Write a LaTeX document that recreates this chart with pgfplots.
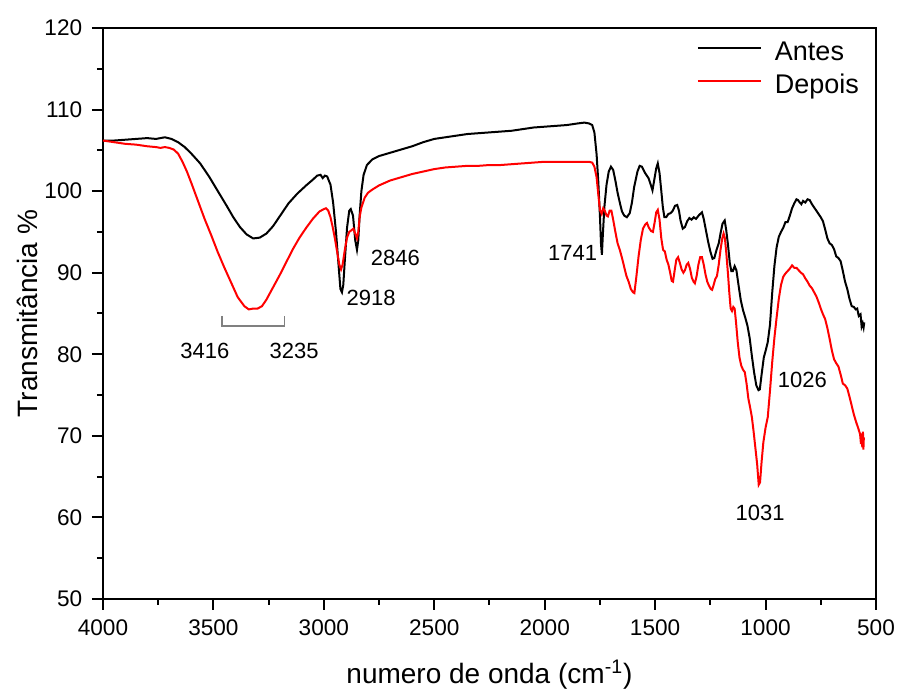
\documentclass[border=0pt]{standalone}
\usepackage{pgfplots}
\pgfplotsset{compat=1.18}
\usepackage{fontspec}
\setmainfont{Liberation Sans}

\pgfplotstableread{
x y
4000 106.2
3950 106.2
3900 106.3
3850 106.4
3800 106.5
3760 106.4
3720 106.6
3690 106.4
3660 106.0
3630 105.4
3600 104.6
3560 103.4
3520 101.8
3480 100.0
3440 98.2
3410 96.8
3380 95.6
3350 94.7
3320 94.2
3290 94.3
3260 94.8
3230 95.7
3200 96.9
3160 98.5
3120 99.7
3080 100.7
3050 101.4
3030 101.9
3015 102.0
3005 101.6
2995 101.9
2985 101.8
2970 100.8
2958 98.6
2945 95.0
2935 91.5
2925 88.0
2918 87.6
2912 88.5
2905 91.5
2895 95.5
2885 97.6
2878 97.8
2868 97.0
2858 94.0
2850 92.8
2844 94.0
2838 97.0
2830 100.0
2820 102.0
2805 103.2
2780 103.9
2750 104.3
2700 104.7
2650 105.1
2600 105.5
2550 106.0
2500 106.4
2450 106.6
2400 106.8
2350 107.0
2300 107.1
2250 107.2
2200 107.3
2150 107.4
2100 107.6
2050 107.8
2000 107.9
1950 108.0
1900 108.1
1850 108.3
1820 108.4
1800 108.3
1785 108.1
1775 107.2
1765 104.5
1757 101.0
1750 97.0
1745 93.5
1741 92.2
1737 94.5
1730 98.0
1720 100.8
1710 102.4
1700 103.0
1690 102.6
1680 101.3
1670 99.8
1660 98.6
1650 97.5
1640 97.0
1628 96.8
1615 97.3
1605 98.6
1595 100.5
1580 102.4
1570 103.1
1560 103.0
1545 102.2
1530 101.6
1520 100.8
1512 100.1
1505 101.2
1495 102.8
1488 103.4
1480 102.2
1472 100.0
1465 98.0
1458 96.8
1450 96.8
1440 97.2
1430 97.3
1420 97.6
1410 98.2
1400 98.3
1392 97.6
1385 96.4
1375 95.4
1365 95.6
1355 96.3
1345 96.7
1335 96.5
1325 96.8
1315 96.6
1300 97.1
1288 97.4
1280 96.6
1270 95.2
1260 93.8
1250 92.6
1240 91.7
1232 91.8
1222 92.8
1212 93.6
1204 94.8
1195 96.0
1185 96.4
1178 95.2
1170 93.4
1162 91.2
1155 90.2
1148 90.2
1140 90.8
1132 90.3
1122 88.4
1112 86.6
1102 85.4
1092 84.5
1082 83.5
1072 82.0
1062 79.8
1052 77.8
1042 76.2
1032 75.6
1026 75.7
1018 77.5
1008 79.6
998 80.6
990 81.5
980 83.6
970 87.5
960 90.8
950 93.1
940 94.4
930 95.0
920 95.5
910 96.2
900 96.2
890 97.0
880 97.9
870 98.5
860 99.0
853 98.9
845 98.6
838 98.4
830 98.8
820 98.6
810 99.0
800 98.9
790 98.4
780 98.0
770 97.6
760 97.2
750 96.8
740 96.3
730 95.3
720 94.2
710 93.6
700 93.4
690 92.9
680 92.0
670 91.8
660 91.4
650 90.2
640 88.9
630 88.0
620 86.8
610 85.9
600 85.8
592 85.5
585 85.6
578 84.7
570 84.9
565 83.4
560 83.8
556 83.3
553 83.9
}\antes

\pgfplotstableread{
x y
4000 106.2
3950 106.0
3900 105.8
3850 105.7
3800 105.5
3760 105.4
3740 105.3
3720 105.4
3700 105.3
3680 105.1
3660 104.6
3640 103.6
3620 102.4
3600 101.0
3570 98.8
3540 96.6
3510 94.6
3480 92.5
3450 90.6
3420 88.8
3390 87.0
3360 85.9
3340 85.5
3320 85.6
3300 85.6
3280 85.9
3260 86.7
3240 87.7
3220 88.7
3200 89.7
3170 91.3
3140 92.9
3110 94.3
3080 95.5
3050 96.6
3020 97.5
3000 97.8
2990 97.9
2980 97.6
2970 96.8
2960 95.6
2950 94.2
2940 92.6
2930 91.0
2922 90.4
2915 91.0
2905 92.8
2895 94.3
2885 95.0
2875 95.2
2866 95.4
2858 94.8
2850 94.2
2844 95.0
2838 96.8
2830 98.0
2815 99.2
2800 99.8
2780 100.2
2750 100.7
2700 101.3
2650 101.7
2600 102.1
2550 102.4
2500 102.7
2450 102.9
2400 103.0
2350 103.1
2300 103.1
2250 103.2
2200 103.2
2150 103.3
2100 103.4
2050 103.5
2000 103.6
1950 103.6
1900 103.6
1850 103.6
1800 103.6
1785 103.5
1775 103.0
1765 101.7
1757 99.5
1750 97.7
1742 97.2
1735 97.9
1728 97.6
1720 97.0
1714 96.9
1706 97.6
1698 97.6
1690 96.5
1680 95.0
1670 93.6
1660 92.8
1650 91.8
1640 90.7
1630 89.6
1620 88.9
1610 88.0
1600 87.6
1594 87.5
1585 89.5
1575 92.0
1565 94.0
1555 95.4
1545 95.9
1537 96.1
1528 95.5
1518 95.1
1510 95.0
1502 96.2
1495 97.4
1488 97.7
1480 96.5
1472 94.2
1464 92.8
1456 92.6
1448 91.6
1440 91.0
1432 90.0
1425 89.0
1419 88.9
1412 90.2
1404 91.6
1396 91.9
1388 91.2
1380 90.4
1372 90.0
1365 90.3
1357 91.0
1350 91.2
1342 90.5
1334 89.4
1326 88.9
1320 88.7
1312 89.6
1304 91.0
1296 91.9
1288 91.9
1280 91.0
1272 89.8
1264 88.9
1256 88.4
1248 88.0
1242 87.9
1235 88.5
1228 89.2
1220 89.6
1212 91.0
1204 92.8
1196 94.2
1190 94.8
1184 94.2
1178 92.5
1170 89.8
1164 87.5
1158 85.6
1152 85.3
1146 85.8
1140 85.6
1134 84.0
1126 81.5
1118 79.6
1110 78.6
1102 78.1
1094 77.8
1086 76.4
1078 74.6
1070 73.5
1062 72.3
1054 70.5
1046 68.5
1038 66.5
1031 64.0
1025 64.3
1018 66.8
1010 69.2
1000 71.0
990 72.3
980 75.5
970 79.0
960 82.0
950 84.5
940 86.8
930 88.5
920 89.5
910 89.9
900 90.2
890 90.5
880 90.9
870 90.6
860 90.6
850 90.3
840 90.0
830 89.8
820 89.3
810 88.9
800 88.4
790 88.1
780 87.6
770 87.1
760 86.4
750 85.6
740 84.9
730 84.3
720 83.2
710 81.9
700 80.5
690 79.4
680 78.9
670 78.5
660 77.5
650 76.4
640 76.2
630 75.8
620 74.8
610 73.7
600 72.6
590 71.7
580 70.9
572 70.2
568 69.0
565 70.3
562 68.6
559 70.5
557 68.3
555 69.8
}\depois

\begin{document}
\begin{tikzpicture}
\begin{axis}[
    scale only axis,
    width=386.5bp, height=285.5bp,
    x dir=reverse,
    xmin=500, xmax=4000,
    ymin=50, ymax=120,
    xtick={500,1000,...,4000},
    ytick={50,60,...,120},
    minor x tick num=1,
    minor y tick num=1,
    tick pos=left,
    tick align=outside,
    major tick length=5.5bp,
    minor tick length=3bp,
    axis line style={line width=1bp},
    every tick/.style={black, line width=1bp},
    /pgf/number format/1000 sep={},
    /pgf/number format/assume math mode=true,
    tick label style={font=\fontsize{11.3bp}{13bp}\selectfont},
    xticklabel style={yshift=-1.3bp},
    yticklabel style={xshift=-1.4bp},
    xlabel={numero de onda (cm\textsuperscript{-1})},
    ylabel={Transmitância \%},
    label style={font=\fontsize{14bp}{16bp}\selectfont},
    xlabel style={at={(axis description cs:0.5,-0.1489)}, anchor=base},
    ylabel style={at={(axis description cs:-0.0841,0.5)}, anchor=base, rotate=0},
    legend cell align=left,
    legend style={draw=none, fill=none, inner sep=0pt, outer sep=0pt,
        at={(axis description cs:0.7684,0.976)}, anchor=north west,
        font=\fontsize{13.5bp}{15bp}\selectfont,
        row sep=5.5bp, column sep=6.5bp,
        nodes={inner sep=0pt}},
    legend image code/.code={\draw[#1] (0bp,2.2bp) -- (31.5bp,2.2bp);},
]
\addplot[black, line width=1bp] table {\antes};
\addlegendentry{Antes}
\addplot[red, line width=1bp] table {\depois};
\addlegendentry{Depois}

% band labels
\draw[gray, line width=0.7bp] (axis cs:3462,84.7) -- (axis cs:3462,83.47) -- (axis cs:3179,83.47) -- (axis cs:3179,84.7);
\begin{scope}[every node/.style={font=\fontsize{11bp}{13bp}\selectfont, anchor=center, inner sep=0pt}]
\node at (axis cs:3539,80.4) {3416};
\node at (axis cs:3135,80.4) {3235};
\node at (axis cs:2786,86.86) {2918};
\node at (axis cs:2676,91.8) {2846};
\node at (axis cs:1874,92.4) {1741};
\node at (axis cs:833,76.9) {1026};
\node at (axis cs:1025,60.5) {1031};
\end{scope}
\end{axis}
\pgfresetboundingbox
\path[use as bounding box] ([shift={(-51.5bp,-45.5bp)}]current axis.south west) rectangle ([shift={(10.5bp,14bp)}]current axis.north east);
\end{tikzpicture}
\end{document}
